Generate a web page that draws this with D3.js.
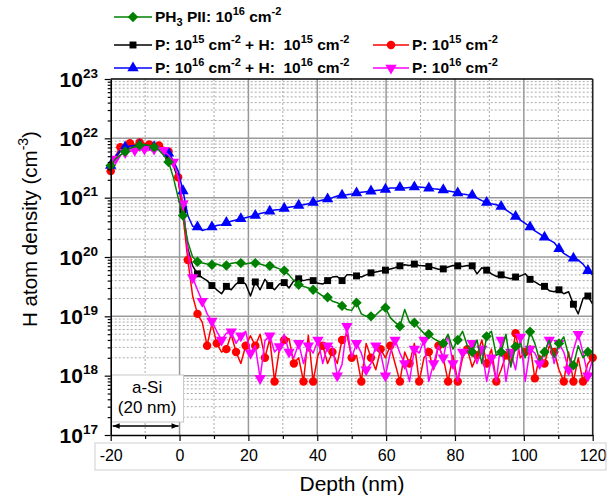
<!DOCTYPE html>
<html>
<head>
<meta charset="utf-8">
<script src="https://cdn.jsdelivr.net/npm/d3@7"></script>
<style>
  body { margin: 0; background: #fff; }
  svg { font-family: Arial, "Liberation Sans", sans-serif; }
  text { white-space: pre; }
</style>
</head>
<body>
<svg id="chart" width="615" height="504"></svg>
<script>
// H depth profiles (SIMS)

const DEPTH = [
  -20, -18.6, -17.2, -15.8, -14.4, -13, -11.6, -10.2, -8.8, -7.4,
  -6, -4.6, -3.2, -1.8, -0.4, 1, 2.4, 3.8, 5.2, 6.6,
  8, 9.4, 10.8, 12.2, 13.6, 15, 16.4, 17.8, 19.2, 20.6,
  22, 23.4, 24.8, 26.2, 27.6, 29, 30.4, 31.8, 33.2, 34.6,
  36, 37.4, 38.8, 40.2, 41.6, 43, 44.4, 45.8, 47.2, 48.6,
  50, 51.4, 52.8, 54.2, 55.6, 57, 58.4, 59.8, 61.2, 62.6,
  64, 65.4, 66.8, 68.2, 69.6, 71, 72.4, 73.8, 75.2, 76.6,
  78, 79.4, 80.8, 82.2, 83.6, 85, 86.4, 87.8, 89.2, 90.6,
  92, 93.4, 94.8, 96.2, 97.6, 99, 100.4, 101.8, 103.2, 104.6,
  106, 107.4, 108.8, 110.2, 111.6, 113, 114.4, 115.8, 117.2, 118.6,
  120
];

// PH3 PII: 1e16 cm-2 (green diamonds)
const PH3_PII = [
  3.5e21, 4.5e21, 5.2e21, 6e21, 6.8e21, 7.2e21, 7.6e21, 7.9e21, 7.6e21, 7.1e21,
  6.3e21, 5.2e21, 4e21, 2.2e21, 1e21, 5e20, 1.8e20, 1e20, 8.3e19, 7.9e19,
  7.6e19, 7.4e19, 7.6e19, 7.1e19, 7.2e19, 7.8e19, 8.1e19, 7.9e19, 7.6e19, 7.9e19,
  7.9e19, 7.6e19, 7.2e19, 7.1e19, 6.8e19, 6.3e19, 5.9e19, 5e19, 4e19, 3.4e19,
  3.2e19, 3e19, 2.8e19, 2.5e19, 2.2e19, 2.1e19, 1.8e19, 1.7e19, 1.5e19, 1.3e19,
  1.26e19, 1.7e19, 1.1e19, 1e19, 1e19, 1.05e19, 1.26e19, 1.4e19, 9.5e18, 7.9e18,
  6.8e18, 1.3e19, 7.9e18, 7.8e18, 6.3e18, 5.2e18, 5e18, 4.2e18, 3.8e18, 3.5e18,
  5e18, 2.8e18, 4e18, 5.6e18, 3.2e18, 2.5e18, 4e18, 1.6e18, 4.6e18, 5.6e18,
  2.2e18, 2.5e18, 5e18, 1.4e18, 3.1e18, 3.5e18, 2e18, 5.5e18, 3.5e18, 1.8e18,
  2.5e18, 4e18, 2e18, 3.5e18, 4.5e18, 2.2e18, 1.5e18, 3.2e18, 2e18, 2.5e18,
  2.6e18
];

// P: 1e15 cm-2 + H: 1e15 cm-2 (black squares)
const P15_H15 = [
  3.2e21, 4.8e21, 6e21, 6.9e21, 7.2e21, 7.6e21, 7.6e21, 7.4e21, 7.2e21, 7.1e21,
  6.9e21, 6.3e21, 5e21, 3.5e21, 2e21, 6.3e20, 1.4e20, 7.1e19, 5.2e19, 4.5e19,
  4e19, 3.3e19, 2.8e19, 2.4e19, 3.2e19, 2.8e19, 3.5e19, 4e19, 3.5e19, 2.2e19,
  3.8e19, 2.8e19, 4.2e19, 3.3e19, 2.8e19, 3.5e19, 3.7e19, 3e19, 4e19, 4.3e19,
  4e19, 4.2e19, 4e19, 3.6e19, 3.5e19, 4e19, 4.6e19, 4.7e19, 4e19, 5e19,
  5e19, 4.8e19, 4.6e19, 5e19, 5.4e19, 5.6e19, 5.8e19, 6e19, 6.3e19, 6.6e19,
  7.1e19, 7.4e19, 7.2e19, 7.6e19, 7.2e19, 7.1e19, 6.9e19, 6.6e19, 6.2e19, 6.3e19,
  6.8e19, 7.2e19, 7.1e19, 6.9e19, 7.2e19, 7.1e19, 5.2e19, 6.6e19, 6e19, 5.2e19,
  4.7e19, 5e19, 4.5e19, 4.3e19, 4.6e19, 4.8e19, 5.2e19, 4.2e19, 3.8e19, 3.4e19,
  3.2e19, 2.7e19, 2.6e19, 2.8e19, 2.4e19, 2.6e19, 1.6e19, 1.1e19, 2e19, 2.2e19,
  1.6e19
];

// P: 1e15 cm-2 (red circles)
const P15 = [
  2.8e21, 5e21, 7.1e21, 7.9e21, 8.3e21, 7.9e21, 8.5e21, 8.3e21, 7.9e21, 8.1e21,
  7.6e21, 7.1e21, 6e21, 4e21, 2.2e21, 5e20, 8.9e19, 2.2e19, 1.1e19, 7.9e18,
  3.2e18, 7.6e18, 3.5e18, 2.5e18, 2.8e18, 5e18, 2.5e18, 1.6e18, 3.2e18, 4.7e18,
  3.2e18, 5e18, 2e18, 4.2e18, 8e17, 2.8e18, 4e18, 4.2e18, 1.6e18, 2e18,
  8e17, 4.8e18, 8e17, 2.2e18, 3.2e18, 1.6e18, 2.5e18, 1.6e18, 4e18, 5e18,
  2e18, 2.2e18, 8e17, 3.5e18, 2e18, 1.26e18, 2.8e18, 2e18, 3.2e18, 1.6e18,
  8e17, 2.5e18, 1.6e18, 3.5e18, 8e17, 2e18, 2.5e18, 1.26e18, 3.2e18, 2e18,
  8e17, 2.2e18, 8e17, 2e18, 2.8e18, 1.4e18, 2.2e18, 4e18, 1.6e18, 2.8e18,
  8e17, 1.26e18, 2.2e18, 1.6e18, 5.2e18, 2e18, 2.5e18, 3.2e18, 9e17, 2.2e18,
  1.6e18, 3.2e18, 2.5e18, 1.26e18, 8e17, 2.5e18, 8e17, 2e18, 8e17, 1.6e18,
  2e18
];

// P: 1e16 cm-2 + H: 1e16 cm-2 (blue triangles)
const P16_H16 = [
  3.5e21, 5e21, 6.3e21, 7.1e21, 7.4e21, 7.6e21, 7.6e21, 7.6e21, 7.4e21, 7.2e21,
  7.1e21, 6.6e21, 5.6e21, 4.2e21, 2.8e21, 1.3e21, 5e20, 3.3e20, 3.2e20, 2.8e20,
  2.95e20, 3.2e20, 3.4e20, 3.5e20, 3.8e20, 4e20, 4.2e20, 4.4e20, 4.6e20, 4.8e20,
  5e20, 5.4e20, 5.6e20, 5.9e20, 6.2e20, 6.3e20, 6.6e20, 6.9e20, 7.1e20, 7.4e20,
  7.6e20, 7.9e20, 8.3e20, 8.7e20, 9.1e20, 9.5e20, 1e21, 1.07e21, 1.1e21, 1.12e21,
  1.15e21, 1.2e21, 1.23e21, 1.26e21, 1.29e21, 1.32e21, 1.35e21, 1.38e21, 1.45e21, 1.45e21,
  1.48e21, 1.45e21, 1.48e21, 1.51e21, 1.51e21, 1.48e21, 1.45e21, 1.41e21, 1.38e21, 1.35e21,
  1.29e21, 1.26e21, 1.2e21, 1.15e21, 1.12e21, 1.1e21, 9.8e20, 8.9e20, 8.3e20, 7.9e20,
  7.6e20, 7.1e20, 6.2e20, 5.5e20, 4.8e20, 4.2e20, 3.7e20, 3.2e20, 2.75e20, 2.45e20,
  2.15e20, 1.95e20, 1.75e20, 1.38e20, 1.15e20, 1.02e20, 9.5e19, 8.9e19, 7.6e19, 5.9e19,
  5e19
];

// P: 1e16 cm-2 (magenta down triangles)
const P16 = [
  3.8e21, 4.5e21, 5.2e21, 5.8e21, 6e21, 6.3e21, 6.3e21, 6.6e21, 6.3e21, 6.6e21,
  6.8e21, 6.3e21, 5.2e21, 4e21, 2.2e21, 7.9e20, 1.26e20, 4.5e19, 2.8e19, 1.8e19,
  1.1e19, 8.3e18, 5.6e18, 4e18, 5.2e18, 5.5e18, 3.5e18, 4.7e18, 5.6e18, 2.4e18,
  3.2e18, 9e17, 3.9e18, 4.7e18, 2.5e18, 3.1e18, 5e18, 2.5e18, 2e18, 3.5e18,
  1.6e18, 3.2e18, 2.4e18, 4e18, 1.6e18, 3.2e18, 3.1e18, 1e18, 1.55e18, 6.8e18,
  2e18, 3.5e18, 2.4e18, 1.26e18, 1.6e18, 3.2e18, 2.4e18, 1e18, 2.4e18, 4e18,
  2.4e18, 1.6e18, 8e17, 2.8e18, 2.4e18, 4e18, 8e17, 1.6e18, 3.2e18, 2e18,
  4.9e18, 1.6e18, 8e17, 2.5e18, 2.4e18, 3.5e18, 1.6e18, 2.8e18, 8e17, 2e18,
  8e17, 4e18, 8e17, 2.5e18, 1.26e18, 4.5e18, 8e17, 2.8e18, 2.4e18, 1.6e18,
  2.4e18, 4e18, 1.6e18, 3.5e18, 2.5e18, 1.26e18, 2.7e18, 5e18, 2.4e18, 1e18,
  1.9e18
];

const X_TICKS = [-20, 0, 20, 40, 60, 80, 100, 120];
const X_MINOR = [-10, 10, 30, 50, 70, 90, 110];
const Y_DECADES = [17, 18, 19, 20, 21, 22, 23];

const svg = d3.select("#chart");

const x = d3.scaleLinear().domain([-20, 120]).range([110.7, 592.7]);
const y = d3.scaleLog().domain([1e17, 1e23]).range([435, 79]);
const [x0, x1] = x.range();
const [yb, yt] = y.range();

// minor decade values for the log grid
const yMinor = [];
Y_DECADES.slice(0, -1).forEach(k => {
  for (let m = 2; m < 10; m++) yMinor.push(m * Math.pow(10, k));
});
const yMajor = Y_DECADES.map(k => Math.pow(10, k));

// grid
const grid = svg.append("g");
grid.selectAll(".gy-min").data(yMinor).enter().append("line")
  .attr("x1", x0).attr("x2", x1)
  .attr("y1", d => y(d)).attr("y2", d => y(d))
  .attr("stroke", "#aaaaaa").attr("stroke-dasharray", "2,2");
grid.selectAll(".gx-min").data(X_MINOR).enter().append("line")
  .attr("x1", d => x(d)).attr("x2", d => x(d))
  .attr("y1", yt).attr("y2", yb)
  .attr("stroke", "#aaaaaa").attr("stroke-dasharray", "2,2");
grid.selectAll(".gy-maj").data(yMajor.slice(1, -1)).enter().append("line")
  .attr("x1", x0).attr("x2", x1)
  .attr("y1", d => y(d)).attr("y2", d => y(d))
  .attr("stroke", "#999").attr("stroke-width", 1.5);
grid.selectAll(".gx-maj").data(X_TICKS.slice(1, -1)).enter().append("line")
  .attr("x1", d => x(d)).attr("x2", d => x(d))
  .attr("y1", yt).attr("y2", yb)
  .attr("stroke", "#999").attr("stroke-width", 1.5);

// series styles
const series = [
  { vals: P15_H15, color: "#000000", sym: "square",  every: 3, off: 0 },
  { vals: P15,     color: "#ff0000", sym: "circle",  every: 2, off: 0 },
  { vals: P16_H16, color: "#0000ff", sym: "triUp",   every: 3, off: 0 },
  { vals: P16,     color: "#ff00ff", sym: "triDown", every: 2, off: 1 },
  { vals: PH3_PII, color: "#008000", sym: "diamond", every: 3, off: 0 }
];

function symPath(s) {
  if (s === "square") return d3.symbol(d3.symbolSquare, 48)();
  if (s === "circle") return d3.symbol(d3.symbolCircle, 56)();
  if (s === "diamond") return d3.symbol(d3.symbolSquare, 54)();
  return d3.symbol(d3.symbolTriangle, 56)();
}
function symRot(s) {
  if (s === "diamond") return 45;
  if (s === "triDown") return 180;
  return 0;
}

const line = d3.line()
  .x((d, i) => x(DEPTH[i]))
  .y(d => y(d));

const plot = svg.append("g");
series.forEach(s => {
  plot.append("path")
    .datum(s.vals)
    .attr("d", line)
    .attr("fill", "none")
    .attr("stroke", s.color)
    .attr("stroke-width", 1.5)
    .attr("stroke-linejoin", "round");
  plot.selectAll(null)
    .data(s.vals.map((v, i) => ({ v, i })).filter(d => (d.i - s.off) % s.every === 0))
    .enter().append("path")
    .attr("d", symPath(s.sym))
    .attr("transform", d => `translate(${x(DEPTH[d.i])},${y(d.v)}) rotate(${symRot(s.sym)})`)
    .attr("fill", s.color);
});

// a-Si box with arrow
const asi = svg.append("g");
asi.append("rect")
  .attr("x", x(-20) + 1).attr("y", 375)
  .attr("width", x(0) - x(-20) + 3).attr("height", 47)
  .attr("fill", "#fff").attr("stroke", "#c8c8c8");
asi.append("text").attr("x", (x(-20) + x(0)) / 2 + 2).attr("y", 393)
  .attr("text-anchor", "middle").attr("font-size", 17).text("a-Si");
asi.append("text").attr("x", (x(-20) + x(0)) / 2 + 2).attr("y", 413)
  .attr("text-anchor", "middle").attr("font-size", 17).text("(20 nm)");

const defs = svg.append("defs");
defs.append("marker").attr("id", "ah").attr("viewBox", "0 0 10 10")
  .attr("refX", 10).attr("refY", 5).attr("markerWidth", 10).attr("markerHeight", 7)
  .attr("markerUnits", "userSpaceOnUse").attr("orient", "auto-start-reverse")
  .append("path").attr("d", "M0,1 L10,5 L0,9 Z").attr("fill", "#000");
asi.append("line")
  .attr("x1", x(-20) + 2).attr("x2", x(0) - 1)
  .attr("y1", 426).attr("y2", 426)
  .attr("stroke", "#000").attr("stroke-width", 1.5)
  .attr("marker-start", "url(#ah)").attr("marker-end", "url(#ah)");

// axes
const xAxis = svg.append("g").attr("transform", `translate(0,${yb})`)
  .call(d3.axisBottom(x).tickValues(X_TICKS).tickSize(6).tickSizeOuter(0).tickFormat(""));
svg.append("g").attr("transform", `translate(0,${yb})`)
  .call(d3.axisBottom(x).tickValues(X_MINOR).tickSize(4).tickSizeOuter(0).tickFormat(""))
  .select(".domain").remove();
svg.append("g").attr("transform", `translate(${x0},0)`)
  .call(d3.axisLeft(y).tickValues(yMajor).tickSize(6).tickSizeOuter(0).tickFormat(""));
svg.append("g").attr("transform", `translate(${x0},0)`)
  .call(d3.axisLeft(y).tickValues(yMinor).tickSize(3).tickSizeOuter(0).tickFormat(""))
  .select(".domain").remove();
svg.selectAll(".domain").attr("stroke", "#000").attr("stroke-width", 1.6);
svg.selectAll(".tick line").attr("stroke", "#000").attr("stroke-width", 1.2);

// top and right frame
svg.append("line").attr("x1", x0).attr("x2", x1).attr("y1", yt).attr("y2", yt)
  .attr("stroke", "#000").attr("stroke-width", 1.6);
svg.append("line").attr("x1", x1).attr("x2", x1).attr("y1", yt).attr("y2", yb)
  .attr("stroke", "#222").attr("stroke-width", 1.6);

// rich text helper: parts [text, kind], kind "", "sup" or "sub"
function richText(sel, parts, size, small, supUp, subDown) {
  let shift = 0;
  parts.forEach(([t, k]) => {
    const target = k === "sup" ? -supUp : k === "sub" ? subDown : 0;
    sel.append("tspan")
      .attr("dy", target - shift)
      .attr("font-size", k ? small : size)
      .text(t);
    shift = target;
  });
}

// x tick labels with their light box
svg.append("rect").attr("x", 95).attr("y", 443).attr("width", 511).attr("height", 27)
  .attr("fill", "none").attr("stroke", "#cfcfcf");
xAxis.selectAll(".tick").append("text")
  .attr("y", 26).attr("fill", "#000")
  .attr("font-size", 16).attr("text-anchor", "middle")
  .text(d => d);

// y tick labels 10^n
svg.append("g").selectAll("text").data(Y_DECADES).enter().append("text")
  .attr("x", 98).attr("y", d => y(Math.pow(10, d)) + 7.5)
  .attr("text-anchor", "end").attr("font-weight", "bold")
  .each(function (d) {
    richText(d3.select(this), [["10", ""], [String(d), "sup"]], 21, 13.5, 9, 0);
  });

// axis titles
svg.append("text").attr("x", 352).attr("y", 491)
  .attr("text-anchor", "middle").attr("font-size", 21).text("Depth (nm)");
const yTitle = svg.append("text")
  .attr("transform", "translate(37,229) rotate(-90)")
  .attr("text-anchor", "middle").attr("font-size", 20.5);
richText(yTitle, [["H atom density (cm", ""], ["-3", "sup"], [")", ""]], 20.5, 14, 9, 0);

// legend
const legend = [
  { x: 114, y: 17, w: 38, color: "#008000", sym: "diamond",
    parts: [["PH", ""], ["3", "sub"], [" PII: 10", ""], ["16", "sup"], [" cm", ""], ["-2", "sup"]] },
  { x: 114, y: 45, w: 38, color: "#000000", sym: "square",
    parts: [["P: 10", ""], ["15", "sup"], [" cm", ""], ["-2", "sup"], [" + H:  10", ""], ["15", "sup"], [" cm", ""], ["-2", "sup"]] },
  { x: 373, y: 45, w: 36, color: "#ff0000", sym: "circle",
    parts: [["P: 10", ""], ["15", "sup"], [" cm", ""], ["-2", "sup"]] },
  { x: 114, y: 68, w: 38, color: "#0000ff", sym: "triUp",
    parts: [["P: 10", ""], ["16", "sup"], [" cm", ""], ["-2", "sup"], [" + H:  10", ""], ["16", "sup"], [" cm", ""], ["-2", "sup"]] },
  { x: 373, y: 68, w: 36, color: "#ff00ff", sym: "triDown",
    parts: [["P: 10", ""], ["16", "sup"], [" cm", ""], ["-2", "sup"]] }
];
const lg = svg.append("g");
legend.forEach(l => {
  lg.append("line").attr("x1", l.x).attr("x2", l.x + l.w)
    .attr("y1", l.y).attr("y2", l.y)
    .attr("stroke", l.color).attr("stroke-width", 1.5);
  lg.append("path").attr("d", symPath(l.sym))
    .attr("transform", `translate(${l.x + l.w / 2},${l.y}) rotate(${symRot(l.sym)})`)
    .attr("fill", l.color);
  const t = lg.append("text").attr("x", l.x + l.w + 3).attr("y", l.y + 5)
    .attr("font-weight", "bold");
  richText(t, l.parts, 15.5, 11, 7, 4);
});
</script>
</body>
</html>
